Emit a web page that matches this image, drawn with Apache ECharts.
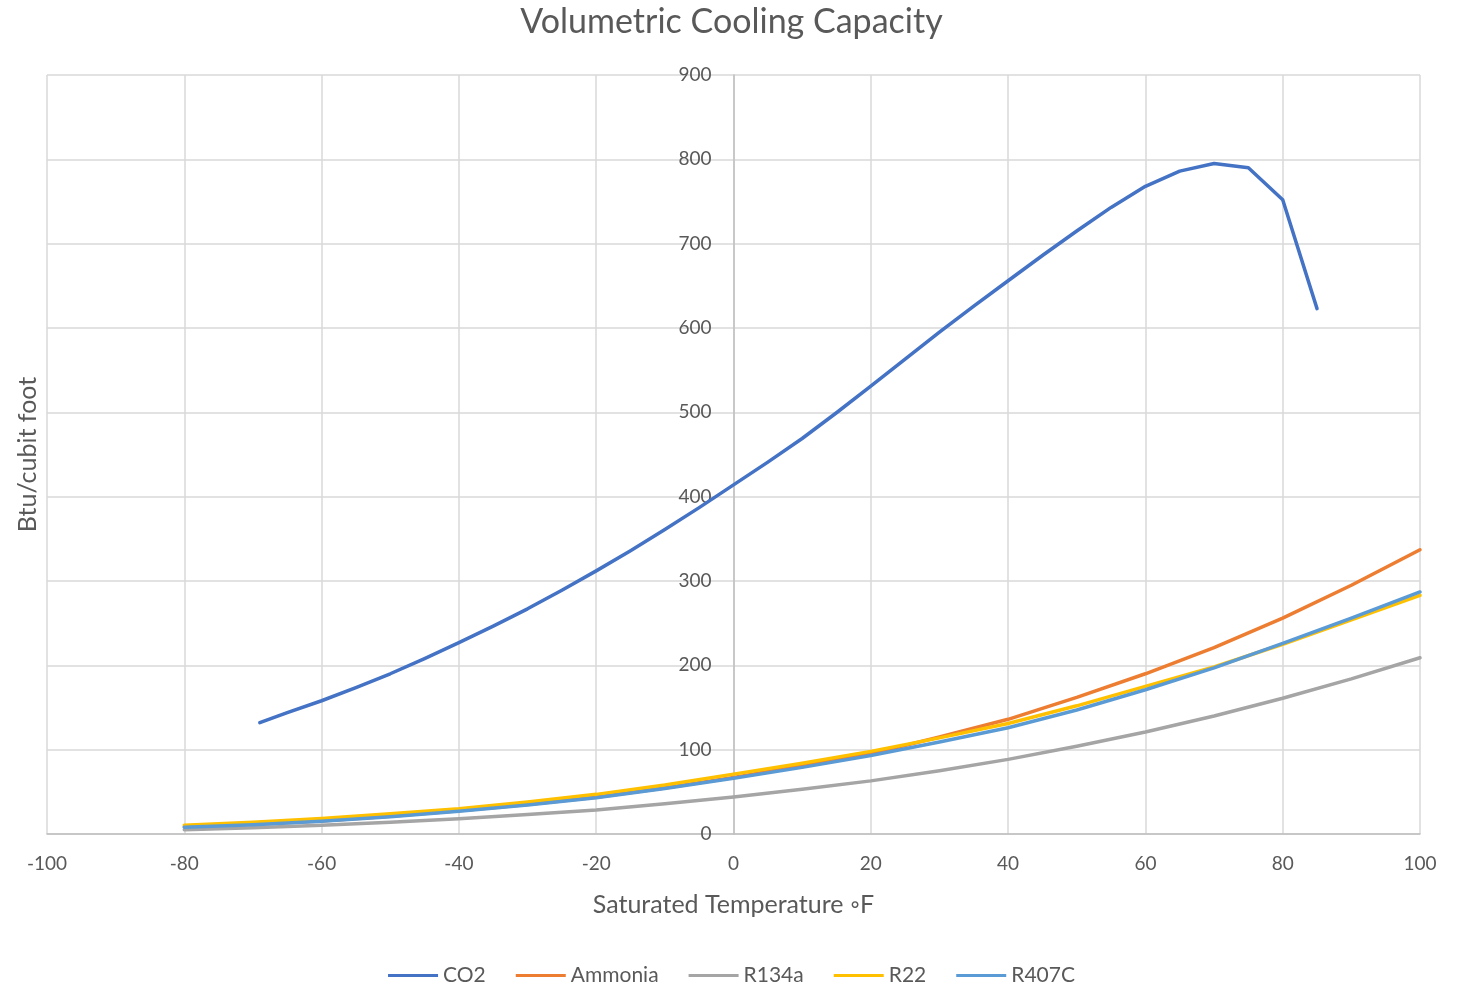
<!DOCTYPE html>
<html>
<head>
<meta charset="utf-8">
<script src="https://cdn.jsdelivr.net/npm/echarts@6/dist/echarts.min.js"></script>
<style>
html, body { margin: 0; padding: 0; background: #fff; }
#chart { width: 1463px; height: 991px; }
</style>
</head>
<body>
<div id="chart"></div>
<script>
// temperatures (°F)
const tempsCO2 = [-69, -65, -60, -55, -50, -45, -40, -35, -30, -25, -20, -15, -10, -5, 0, 5, 10, 15, 20, 25, 30, 35, 40, 45, 50, 55, 60, 65, 70, 75, 80, 85];
const co2 = [132, 144, 158, 173.5, 190, 208, 227, 246.5, 267, 289, 312, 336, 361, 387, 414, 441, 469, 499.5, 531, 563, 595, 626, 656, 686, 715, 743, 768, 786, 795, 790, 752, 623];

const temps = [-80, -70, -60, -50, -40, -30, -20, -10, 0, 10, 20, 30, 40, 50, 60, 70, 80, 90, 100];
const ammonia = [8.5, 11.5, 15.5, 21, 27.5, 35, 43.5, 54.5, 67, 81, 95, 115, 136, 162, 190, 221, 256, 295, 337];
const r134a = [5, 7.5, 10.5, 14, 18, 23, 28.5, 36, 44, 53, 63, 75, 88.5, 104, 121, 140, 161, 184, 209];
const r22 = [10.5, 14, 18.5, 24, 30, 38, 47, 58, 71, 84, 98, 114, 131, 152, 175, 198, 225, 254, 283];
const r407c = [8, 11, 15, 20.5, 27, 34.5, 43, 54, 66, 79, 93, 109, 126, 147, 171, 197, 226, 256, 287];

function pairs(xs, ys) {
  return xs.map(function (x, i) { return [x, ys[i]]; });
}

const font = 'Lato, "Open Sans", sans-serif';
const grey = '#595959';
const plotW = 1463 - 47 - 43;

const chart = echarts.init(document.getElementById('chart'));

function line(name, color, data) {
  return {
    name: name,
    type: 'line',
    data: data,
    showSymbol: false,
    symbol: 'none',
    smooth: false,
    lineStyle: { color: color, width: 3.5, cap: 'round', join: 'round' },
    itemStyle: { color: color },
    emphasis: { disabled: true }
  };
}

const option = {
  animation: false,
  backgroundColor: '#fff',
  title: {
    text: 'Volumetric Cooling Capacity',
    left: 'center',
    top: 0,
    textStyle: { fontFamily: font, fontSize: 34, fontWeight: 'normal', color: grey }
  },
  legend: {
    left: 'center',
    top: 960,
    icon: 'rect',
    itemWidth: 50,
    itemHeight: 3,
    itemGap: 30,
    textStyle: { fontFamily: font, fontSize: 21, color: grey }
  },
  grid: { left: 47, right: 43, top: 75, bottom: 157, containLabel: false, outerBoundsMode: 'none' },
  xAxis: {
    type: 'value',
    min: -100,
    max: 100,
    interval: 20,
    name: 'Saturated Temperature \u25E6F',
    nameLocation: 'middle',
    nameGap: 58,
    nameTextStyle: { fontFamily: font, fontSize: 25, color: grey },
    axisLine: { show: true, lineStyle: { color: '#bfbfbf', width: 1.5 } },
    axisTick: { show: false },
    axisLabel: { fontFamily: font, fontSize: 19, color: grey, margin: 20 },
    splitLine: { show: true, lineStyle: { color: '#d9d9d9', width: 1.5 } }
  },
  yAxis: [{
    type: 'value',
    min: 0,
    max: 900,
    interval: 100,
    position: 'left',
    offset: -plotW / 2,
    axisLine: { show: true, onZero: false, lineStyle: { color: '#bfbfbf', width: 1.5 } },
    axisTick: { show: false },
    axisLabel: { fontFamily: font, fontSize: 19, color: grey, margin: 22 },
    splitLine: { show: true, lineStyle: { color: '#d9d9d9', width: 1.5 } }
  }, {
    // only carries the axis title on the left edge
    type: 'value',
    min: 0,
    max: 900,
    interval: 100,
    position: 'left',
    name: 'Btu/cubit foot',
    nameLocation: 'middle',
    nameRotate: 90,
    nameGap: 7,
    nameTextStyle: { fontFamily: font, fontSize: 25, color: grey },
    axisLine: { show: false },
    axisTick: { show: false },
    axisLabel: { show: false },
    splitLine: { show: false }
  }],
  series: [
    line('CO2', '#4472C4', pairs(tempsCO2, co2)),
    line('Ammonia', '#ED7D31', pairs(temps, ammonia)),
    line('R134a', '#A5A5A5', pairs(temps, r134a)),
    line('R22', '#FFC000', pairs(temps, r22)),
    line('R407C', '#5B9BD5', pairs(temps, r407c))
  ]
};

chart.setOption(option);
</script>
</body>
</html>
